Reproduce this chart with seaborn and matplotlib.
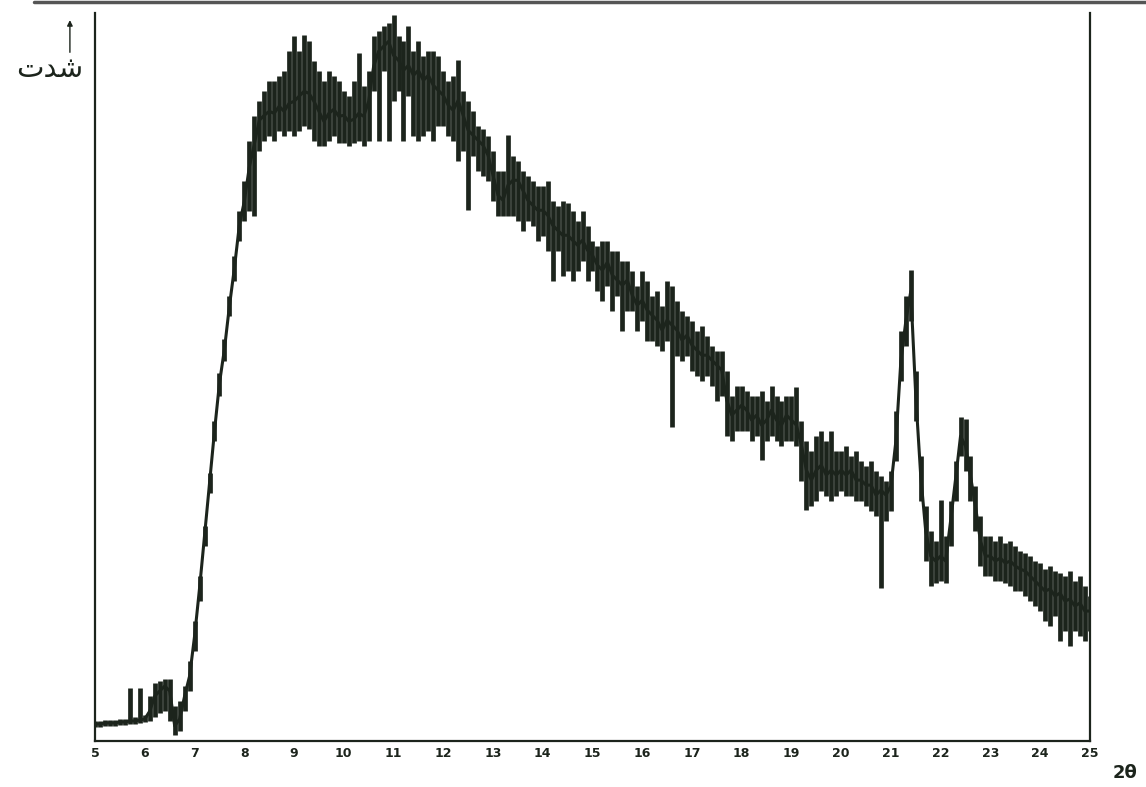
import numpy as np
import pandas as pd
import matplotlib
matplotlib.use("Agg")
import matplotlib.pyplot as plt
import seaborn as sns
from matplotlib.lines import Line2D

# ── Data (0.1 deg steps, intensity in arbitrary units) ────
two_theta = np.round(np.arange(5.0, 25.05, 0.1), 1)

intensity_mid = [
    17, 17, 18, 18, 18, 19, 19, 20, 20, 21,            # 5
    22, 30, 45, 50, 55, 50, 15, 22, 45, 65,            # 6
    105, 153, 205, 258, 310, 358, 392, 435, 473, 516,  # 7
    540, 574, 597, 621, 626, 630, 628, 635, 630, 638,  # 8
    640, 645, 650, 648, 640, 630, 620, 628, 632, 625,  # 9
    626, 620, 622, 628, 625, 640, 675, 690, 695, 700,  # 10
    686, 681, 671, 676, 666, 671, 661, 666, 656, 651,  # 11
    646, 636, 631, 641, 626, 611, 606, 601, 596, 586,  # 12
    566, 546, 541, 556, 561, 561, 551, 541, 536, 531,  # 13
    531, 526, 516, 511, 506, 506, 501, 496, 501, 491,  # 14
    486, 476, 471, 479, 466, 461, 456, 461, 446, 436,  # 15
    441, 431, 426, 421, 411, 421, 416, 411, 401, 406,  # 16
    396, 391, 386, 386, 381, 376, 371, 341, 326, 331,  # 17
    336, 331, 321, 326, 316, 321, 331, 321, 316, 326,  # 18
    321, 316, 296, 271, 261, 271, 276, 266, 271, 266,  # 19
    271, 266, 271, 261, 261, 256, 256, 246, 251, 246,  # 20
    255, 300, 380, 420, 450, 345, 265, 210, 185, 180,  # 21
    185, 180, 220, 262, 305, 295, 265, 235, 200, 185,  # 22
    185, 180, 183, 178, 180, 175, 172, 170, 165, 160,  # 23
    155, 150, 152, 145, 148, 140, 142, 135, 138, 130,  # 24
    130,                                               # 25
]

intensity_hi = [
    20, 20, 21, 21, 21, 22, 22, 53, 24, 53,
    26, 45, 58, 60, 62, 62, 35, 40, 55, 80,
    120, 165, 215, 268, 320, 368, 402, 445, 485, 530,
    560, 600, 625, 640, 650, 660, 660, 665, 670, 690,
    705, 690, 706, 700, 680, 670, 660, 670, 665, 660,
    650, 645, 660, 688, 655, 670, 705, 710, 715, 718,
    726, 705, 700, 715, 690, 700, 685, 690, 690, 685,
    670, 660, 665, 681, 650, 640, 630, 615, 612, 605,
    590, 570, 570, 606, 585, 580, 570, 565, 560, 555,
    555, 560, 540, 535, 540, 538, 530, 520, 530, 515,
    500, 495, 500, 500, 490, 490, 480, 480, 470, 455,
    470, 460, 445, 450, 435, 460, 455, 440, 430, 425,
    420, 410, 415, 405, 395, 390, 390, 370, 345, 355,
    355, 350, 345, 345, 350, 340, 355, 345, 340, 345,
    345, 354, 320, 300, 290, 305, 310, 300, 310, 290,
    290, 295, 285, 290, 280, 275, 280, 270, 265, 260,
    270, 330, 410, 445, 471, 370, 285, 235, 210, 200,
    241, 205, 240, 280, 324, 322, 285, 255, 225, 205,
    205, 200, 205, 198, 200, 195, 190, 188, 185, 180,
    178, 172, 175, 170, 168, 165, 170, 160, 165, 155,
    145,
]

intensity_lo = [
    14, 14, 15, 15, 15, 16, 16, 17, 17, 18,
    19, 20, 24, 28, 30, 20, 6, 10, 30, 50,
    90, 140, 195, 248, 300, 345, 380, 425, 460, 500,
    520, 530, 525, 590, 600, 605, 600, 610, 605, 610,
    605, 610, 615, 612, 600, 595, 595, 600, 605, 598,
    598, 595, 598, 600, 595, 600, 650, 600, 670, 600,
    640, 650, 600, 645, 605, 600, 605, 610, 600, 615,
    615, 605, 600, 580, 590, 531, 585, 570, 565, 560,
    540, 525, 525, 525, 525, 520, 510, 520, 515, 500,
    505, 490, 460, 490, 465, 470, 460, 470, 480, 460,
    470, 450, 440, 455, 430, 445, 410, 430, 430, 410,
    420, 400, 400, 395, 390, 400, 314, 385, 380, 385,
    370, 365, 360, 365, 355, 340, 345, 305, 300, 310,
    310, 310, 300, 305, 281, 300, 305, 300, 295, 300,
    300, 295, 260, 231, 235, 240, 250, 245, 240, 245,
    250, 245, 245, 240, 240, 235, 230, 225, 153, 220,
    230, 280, 360, 395, 420, 320, 240, 180, 155, 158,
    160, 158, 195, 240, 285, 270, 240, 210, 175, 165,
    165, 160, 160, 158, 155, 150, 150, 145, 140, 135,
    130, 120, 115, 125, 100, 110, 95, 110, 105, 100,
    110,
]

x_ticks = list(range(5, 26))
x_labels = [str(t) for t in x_ticks]
y_label = "\uFE95\uFEAA\uFEB7"   # "شدت" in shaped presentation forms
x_label = "2θ"

INK = "#1c241c"

df = pd.DataFrame({"two_theta": two_theta, "mid": intensity_mid,
                   "hi": intensity_hi, "lo": intensity_lo})

# ── Plot ─────────────────────────────────────────────────────────────────────
sns.set_theme(style="white")
plt.rcParams["font.family"] = ["DejaVu Sans"]

fig = plt.figure(figsize=(11.46, 7.87), dpi=100)
ax = fig.add_axes([0.083, 0.0585, 0.868, 0.9245])

# noisy band: one stroke per step from low to high count
ax.vlines(df["two_theta"], df["lo"], df["hi"], color=INK, lw=3.4)
sns.lineplot(data=df, x="two_theta", y="mid", color=INK, lw=2.2, ax=ax)

ax.set_xlim(5, 25)
ax.set_ylim(0, 728)
ax.set_xticks(x_ticks)
ax.set_xticklabels(x_labels, fontsize=9, fontweight="bold", color=INK)
ax.set_yticks([358])
ax.set_yticklabels([])
ax.tick_params(axis="x", direction="in", length=5, width=1.2, color=INK, pad=4)
ax.tick_params(axis="y", direction="in", length=4, width=1.0, color=INK)
ax.set_xlabel("")
ax.set_ylabel("")

for side in ("left", "bottom", "right"):
    ax.spines[side].set_color(INK)
    ax.spines[side].set_linewidth(1.6)
ax.spines["top"].set_visible(False)

# intensity label with arrow, top-left
fig.text(0.043, 0.912, y_label, fontsize=21, color=INK, ha="center", va="center",
         family=["DejaVu Sans"])
ax.annotate("", xy=(0.061, 0.978), xytext=(0.061, 0.930),
            xycoords="figure fraction", textcoords="figure fraction",
            arrowprops=dict(arrowstyle="-|>", color=INK, lw=1.0, mutation_scale=8))

# 2θ label, bottom-right
fig.text(0.982, 0.018, x_label, fontsize=13, fontweight="bold", color=INK,
         ha="center", va="center")

# page border line along the top of the scan
fig.add_artist(Line2D([0.03, 1.0], [0.997, 0.997], transform=fig.transFigure,
                      color="#555555", lw=2.5))

fig.savefig("out.png", dpi=100)
plt.close(fig)
